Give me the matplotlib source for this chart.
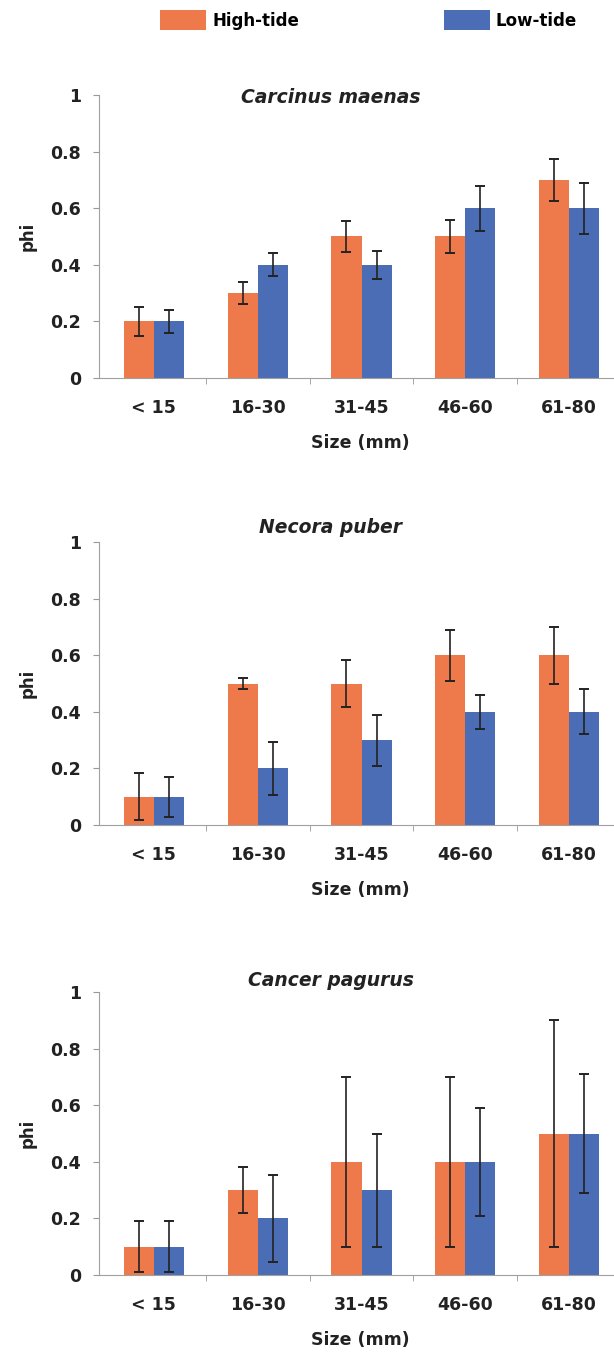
import numpy as np
import matplotlib
matplotlib.use("Agg")
import matplotlib.pyplot as plt

plt.rcParams['font.family'] = ['DejaVu Sans']
plt.rcParams['font.weight'] = 'bold'

sizes = ['< 15', '16-30', '31-45', '46-60', '61-80']
species = ['Carcinus maenas', 'Necora puber', 'Cancer pagurus']

high_tide = [
    [0.2, 0.3, 0.5, 0.5, 0.7],
    [0.1, 0.5, 0.5, 0.6, 0.6],
    [0.1, 0.3, 0.4, 0.4, 0.5],
]
high_err = [
    [0.05, 0.04, 0.055, 0.06, 0.075],
    [0.083, 0.02, 0.083, 0.09, 0.1],
    [0.09, 0.08, 0.3, 0.3, 0.4],
]
low_tide = [
    [0.2, 0.4, 0.4, 0.6, 0.6],
    [0.1, 0.2, 0.3, 0.4, 0.4],
    [0.1, 0.2, 0.3, 0.4, 0.5],
]
low_err = [
    [0.04, 0.04, 0.05, 0.08, 0.09],
    [0.07, 0.093, 0.09, 0.06, 0.08],
    [0.09, 0.155, 0.2, 0.19, 0.21],
]

ORANGE = '#EE7A4B'
BLUE = '#4A6DB5'
W, H = 614, 1353

fig = plt.figure(figsize=(W / 100, H / 100), dpi=100)

tops = [95, 542, 992]
title_y = [0.99, 1.053, 1.042]
ax_h = 283
x = np.arange(len(sizes))
bw = 0.29

for i, name in enumerate(species):
    ax = fig.add_axes([99 / W, 1 - (tops[i] + ax_h) / H, 522 / W, ax_h / H])
    hb = ax.bar(x - bw / 2, high_tide[i], bw, color=ORANGE, label='High-tide')
    lb = ax.bar(x + bw / 2, low_tide[i], bw, color=BLUE, label='Low-tide')
    ax.errorbar(x - bw / 2, high_tide[i], yerr=high_err[i], fmt='none',
                ecolor='#222222', elinewidth=1.2, capsize=3.5, capthick=1.4)
    ax.errorbar(x + bw / 2, low_tide[i], yerr=low_err[i], fmt='none',
                ecolor='#222222', elinewidth=1.2, capsize=3.5, capthick=1.4)

    ax.set_xlim(-0.529, 4.5)
    ax.set_ylim(0, 1)
    ax.set_yticks([0, 0.2, 0.4, 0.6, 0.8, 1.0])
    ax.set_yticklabels(['0', '0.2', '0.4', '0.6', '0.8', '1'])
    ax.set_xticks(x)
    ax.set_xticklabels(sizes)
    ax.set_xticks([0.5, 1.5, 2.5, 3.5], minor=True)
    ax.tick_params(axis='x', which='major', length=0, pad=15, labelsize=12.5, colors='#222222')
    ax.tick_params(axis='x', which='minor', length=4, color='#999999', direction='out')
    ax.tick_params(axis='y', length=4, color='#999999', pad=9, labelsize=12.5, labelcolor='#222222')

    for s in ['top', 'right']:
        ax.spines[s].set_visible(False)
    for s in ['left', 'bottom']:
        ax.spines[s].set_color('#a0a0a0')
        ax.spines[s].set_linewidth(0.8)

    ax.set_xlabel('Size (mm)', fontsize=12.5, fontweight='bold', color='#222222')
    ax.xaxis.set_label_coords(0.5, -0.198)
    ax.set_ylabel('phi', fontsize=12, fontweight='bold', color='#222222')
    ax.yaxis.set_label_coords(-0.12, 0.5)
    ax.text(0.444, title_y[i], name, transform=ax.transAxes, ha='center', va='center',
            fontsize=13.5, fontweight='bold', fontstyle='italic', color='#222222')

    if i == 0:
        handles = [hb, lb]

fig.legend(handles, ['High-tide', 'Low-tide'], loc='center left',
           bbox_to_anchor=(160 / W, 1 - 20 / H), ncol=2, frameon=False,
           fontsize=12, handlelength=2.76, handleheight=1.44, handletextpad=0.36,
           columnspacing=8.7, borderpad=0, borderaxespad=0)

fig.savefig('out.png', dpi=100, facecolor='white')
